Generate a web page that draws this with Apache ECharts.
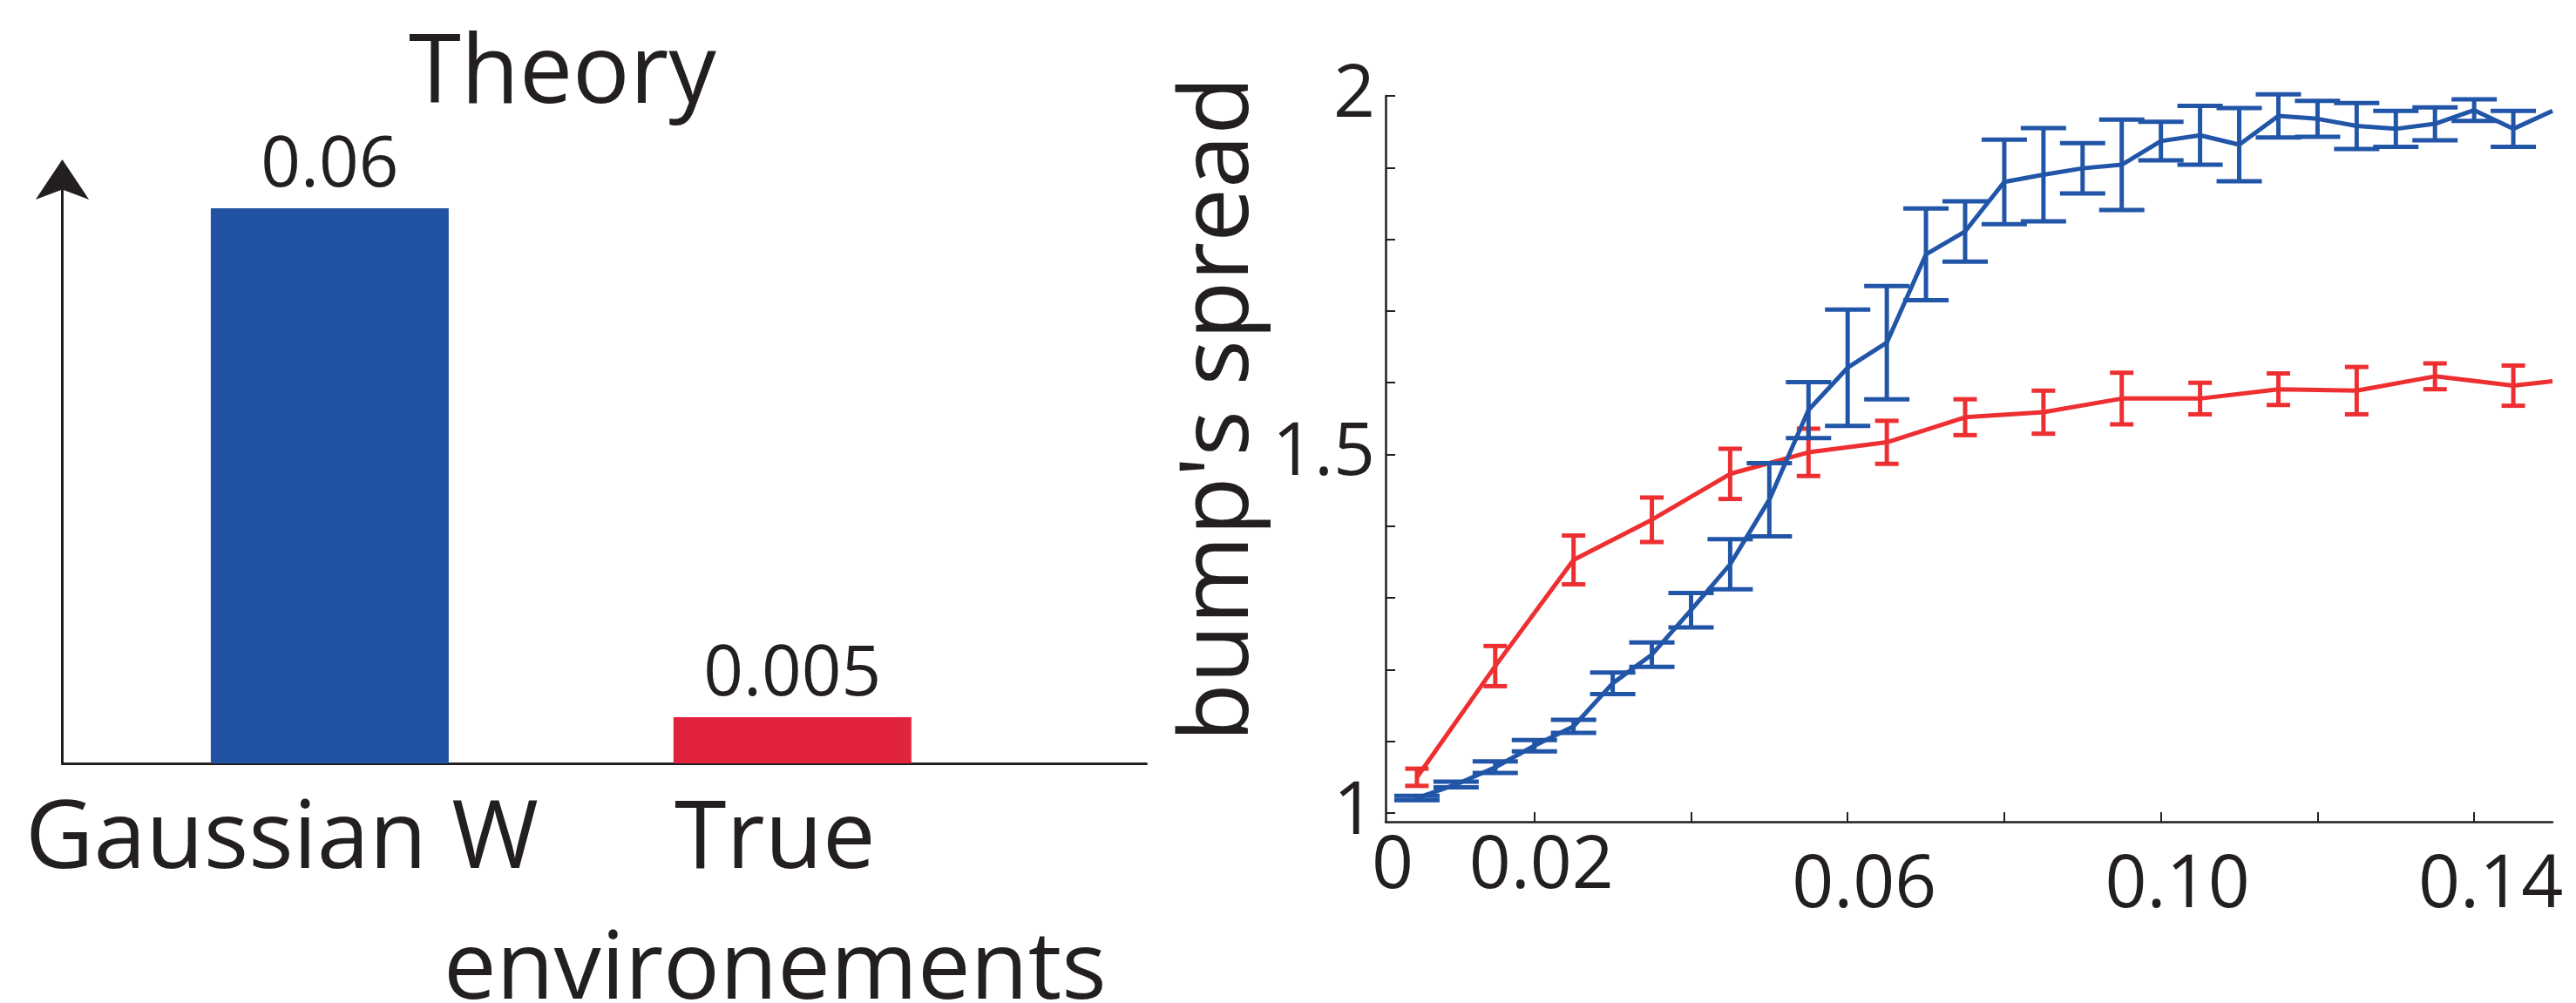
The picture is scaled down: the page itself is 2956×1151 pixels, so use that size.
<!DOCTYPE html>
<html>
<head>
<meta charset="UTF-8">
<title>Theory / bump's spread</title>
<script src="https://cdn.jsdelivr.net/npm/echarts@6/dist/echarts.min.js"></script>
<style>
  html, body { margin: 0; background: #fff; }
  #chart { width: 2956px; height: 1151px; }
</style>
</head>
<body>
<div id="chart"></div>
<script>
// Left panel: theory bars
const theoryCategories = ['Gaussian W', 'True\nenvironements']
const theoryValues = [0.06, 0.005]
const theoryColors = ['#2252a3', '#e2233e']

// Right panel: blue curve (every 0.005), mean and error half-width
const blueX = [0.005, 0.01, 0.015, 0.02, 0.025, 0.03, 0.035, 0.04, 0.045, 0.05,
  0.055, 0.06, 0.065, 0.07, 0.075, 0.08, 0.085, 0.09, 0.095, 0.1,
  0.105, 0.11, 0.115, 0.12, 0.125, 0.13, 0.135, 0.14, 0.145, 0.15]
const blueY = [1.021, 1.040, 1.064, 1.094, 1.121, 1.181, 1.221, 1.283, 1.347, 1.437,
  1.562, 1.621, 1.656, 1.779, 1.811, 1.880, 1.890, 1.899, 1.904, 1.937,
  1.945, 1.932, 1.972, 1.968, 1.958, 1.954, 1.961, 1.980, 1.954, 1.979]
const blueErr = [0.003, 0.004, 0.008, 0.008, 0.009, 0.015, 0.017, 0.024, 0.035, 0.051,
  0.039, 0.081, 0.079, 0.064, 0.042, 0.059, 0.065, 0.035, 0.063, 0.027,
  0.041, 0.051, 0.030, 0.025, 0.032, 0.025, 0.023, 0.015, 0.025, null]

// Right panel: red curve (every 0.01)
const redX = [0.005, 0.015, 0.025, 0.035, 0.045, 0.055, 0.065, 0.075,
  0.085, 0.095, 0.105, 0.115, 0.125, 0.135, 0.145, 0.15]
const redY = [1.050, 1.205, 1.353, 1.409, 1.473, 1.503, 1.517, 1.552,
  1.559, 1.578, 1.578, 1.591, 1.589, 1.609, 1.596, 1.602]
const redErr = [0.012, 0.028, 0.034, 0.031, 0.035, 0.033, 0.030, 0.025,
  0.030, 0.036, 0.022, 0.022, 0.033, 0.018, 0.028, null]

// Axis ticks / labels
const yTickValues = [1, 1.1, 1.2, 1.3, 1.4, 1.5, 1.6, 1.7, 1.8, 1.9, 2]
const yLabelValues = [1, 1.5, 2]
const xTickValues = [0.02, 0.04, 0.06, 0.08, 0.1, 0.12, 0.14]
const xLabelValues = [0.001, 0.02, 0.06, 0.1, 0.14]

const INK = '#231f20'
const BLUE = '#2155a7'
const RED = '#ee2f31'
const FONT = '"Open Sans", "Noto Sans", sans-serif'

function errorBars(xs, ys, errs, color, capWidth, z) {
  const data = []
  xs.forEach((x, i) => {
    if (errs[i] != null) data.push([x, ys[i] - errs[i], ys[i] + errs[i]])
  })
  return {
    type: 'custom',
    xAxisIndex: 1,
    yAxisIndex: 1,
    data,
    encode: { x: 0, y: [1, 2] },
    z,
    renderItem(params, api) {
      const lo = api.coord([api.value(0), api.value(1)])
      const hi = api.coord([api.value(0), api.value(2)])
      const h = capWidth / 2
      const style = { stroke: color, lineWidth: 5 }
      return {
        type: 'group',
        children: [
          { type: 'line', shape: { x1: lo[0], y1: lo[1], x2: hi[0], y2: hi[1] }, style },
          { type: 'line', shape: { x1: lo[0] - h, y1: lo[1], x2: lo[0] + h, y2: lo[1] }, style },
          { type: 'line', shape: { x1: hi[0] - h, y1: hi[1], x2: hi[0] + h, y2: hi[1] }, style }
        ]
      }
    }
  }
}

// one label per axis so the two overlapping category labels both stay visible
function categoryAxis(idx, padRight, showLine) {
  return {
    gridIndex: 0,
    type: 'value',
    position: 'bottom',
    min: 0.422,
    max: 2.765,
    axisLine: { show: showLine, onZero: false, lineStyle: { color: INK, width: 3 } },
    axisTick: { show: false },
    splitLine: { show: false },
    axisLabel: {
      customValues: [idx + 1],
      margin: 14,
      color: INK,
      fontFamily: FONT,
      formatter: () => theoryCategories[idx].split('\n').map(s => '{c|' + s + '}').join('\n'),
      rich: {
        c: { fontSize: 108, lineHeight: 150, fontFamily: FONT, color: INK, padding: [0, padRight, 0, 0] }
      }
    }
  }
}

const chart = echarts.init(document.getElementById('chart'))
chart.setOption({
  backgroundColor: '#fff',
  animation: false,
  textStyle: { fontFamily: FONT, color: INK },
  title: {
    text: 'Theory',
    left: 469,
    top: 32,
    padding: 0,
    textStyle: { fontFamily: FONT, fontSize: 109, fontWeight: 'normal', color: INK }
  },
  grid: [
    { left: 71.5, top: 186, width: 1244, height: 690, outerBoundsMode: 'none', containLabel: false },
    { left: 1590, top: 110, width: 1339, height: 833, outerBoundsMode: 'none', containLabel: false }
  ],
  xAxis: [
    categoryAxis(0, 110, true),
    {
      gridIndex: 1,
      type: 'value',
      position: 'bottom',
      min: 0.001,
      max: 0.15,
      axisLine: { show: true, lineStyle: { color: INK, width: 2.5 } },
      axisTick: { show: true, inside: true, length: 11, customValues: xTickValues, lineStyle: { color: INK, width: 2 } },
      splitLine: { show: false },
      axisLabel: {
        customValues: xLabelValues,
        hideOverlap: false,
        margin: 10,
        color: INK,
        fontFamily: FONT,
        fontSize: 84,
        formatter: v => {
          const s = v < 0.01 ? '0' : v.toFixed(2)
          return v < 0.04 ? '{a|' + s + '}' : '{b|' + s + '}'
        },
        rich: {
          a: { fontSize: 84, fontFamily: FONT, color: INK, padding: [0, 0, 0, 16] },
          b: { fontSize: 84, fontFamily: FONT, color: INK, padding: [22, 0, 0, 38] }
        }
      }
    },
    categoryAxis(1, 40, false)
  ],
  yAxis: [
    {
      gridIndex: 0,
      type: 'value',
      min: 0,
      max: 0.065,
      axisLine: {
        show: true,
        symbol: ['none', 'arrow'],
        symbolSize: [46, 46],
        symbolOffset: [0, 3],
        lineStyle: { color: INK, width: 3 }
      },
      axisTick: { show: false },
      axisLabel: { show: false },
      splitLine: { show: false }
    },
    {
      gridIndex: 1,
      type: 'value',
      min: 0.988,
      max: 2,
      name: "bump's spread",
      nameLocation: 'middle',
      nameGap: 118,
      nameTextStyle: { fontFamily: FONT, fontSize: 110, color: INK, padding: [0, 0, 0, 114] },
      axisLine: { show: true, lineStyle: { color: INK, width: 2.5 } },
      axisTick: { show: true, inside: true, length: 11, customValues: yTickValues, lineStyle: { color: INK, width: 2 } },
      splitLine: { show: false },
      axisLabel: {
        customValues: yLabelValues,
        margin: 12,
        color: INK,
        fontFamily: FONT,
        fontSize: 84,
        formatter: v => String(v)
      }
    }
  ],
  series: [
    {
      type: 'bar',
      xAxisIndex: 0,
      yAxisIndex: 0,
      barWidth: 273,
      data: theoryValues.map((v, i) => ({ value: [i + 1, v], itemStyle: { color: theoryColors[i] } })),
      label: {
        show: true,
        position: 'top',
        distance: 8,
        fontFamily: FONT,
        fontSize: 80,
        color: INK,
        formatter: p => String(p.value[1])
      }
    },
    {
      type: 'line',
      xAxisIndex: 1,
      yAxisIndex: 1,
      data: redX.map((x, i) => [x, redY[i]]),
      showSymbol: false,
      symbol: 'none',
      lineStyle: { color: RED, width: 5 },
      z: 2
    },
    errorBars(redX, redY, redErr, RED, 27, 3),
    {
      type: 'line',
      xAxisIndex: 1,
      yAxisIndex: 1,
      data: blueX.map((x, i) => [x, blueY[i]]),
      showSymbol: false,
      symbol: 'none',
      lineStyle: { color: BLUE, width: 5 },
      z: 4
    },
    errorBars(blueX, blueY, blueErr, BLUE, 52, 5)
  ]
})
window.addEventListener('resize', () => chart.resize())
</script>
</body>
</html>
